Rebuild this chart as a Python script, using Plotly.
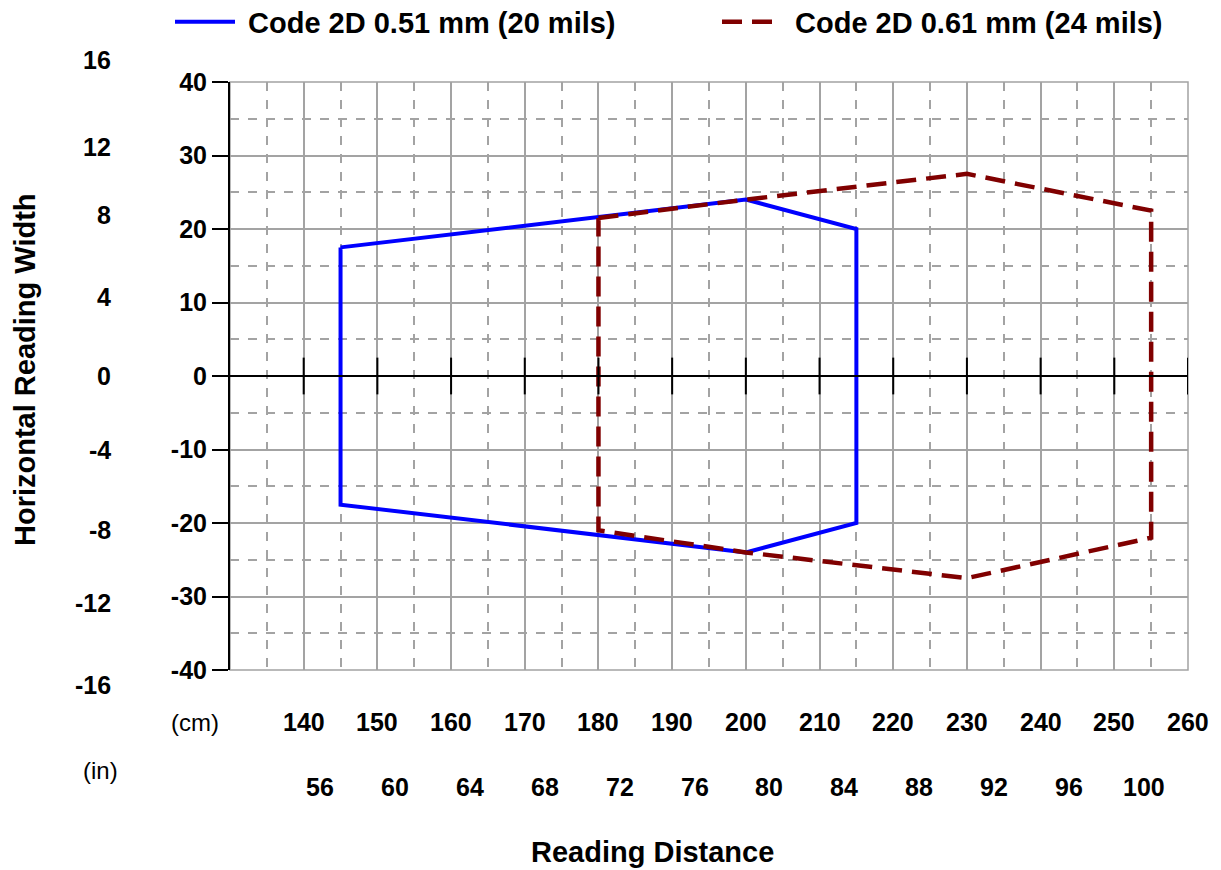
import plotly.graph_objects as go

# reading zone outlines (cm)
blue_x = [145, 200, 215, 215, 200, 145, 145]
blue_y = [17.5, 24, 20, -20, -24, -17.5, 17.5]
red_x = [180, 200, 230, 255, 255, 230, 200, 180, 180]
red_y = [21.5, 24, 27.5, 22.5, -22, -27.5, -24, -21, 21.5]

cm_ticks = [140, 150, 160, 170, 180, 190, 200, 210, 220, 230, 240, 250, 260]
in_ticks = [56, 60, 64, 68, 72, 76, 80, 84, 88, 92, 96, 100]
y_cm_ticks = [40, 30, 20, 10, 0, -10, -20, -30, -40]
y_in_labels = ["16", "12", "8", "4", "0", "-4", "-8", "-12", "-16"]
y_in_pix = [60, 147, 215, 297, 376, 450, 530, 603, 685]

FONT = "Liberation Sans, Arial, sans-serif"
OFF = 8  # page body margin
L, T = 230 - OFF, 82 - OFF
R, B = 1221 - (1188 - OFF), 870 - (670 - OFF)
PW, PH = 1221 - L - R, 870 - T - B


def px(x):
    return (x - OFF - L) / PW


def py(y):
    return (870 - B - (y - OFF)) / PH


def bold(size):
    return dict(size=size, family=FONT, color="black", weight="bold")


fig = go.Figure()
fig.add_trace(go.Scatter(x=blue_x, y=blue_y, mode="lines", name=" Code 2D 0.51 mm (20 mils)",
                         line=dict(color="#0000FF", width=4), legend="legend"))
fig.add_trace(go.Scatter(x=red_x, y=red_y, mode="lines", name=" Code 2D 0.61 mm (24 mils)",
                         line=dict(color="#800000", width=4.5, dash="20px,10px"), legend="legend2"))

# zero line with tick marks
fig.add_shape(type="line", xref="x", yref="y", x0=130, x1=260, y0=0, y1=0,
              line=dict(color="black", width=2))
for t in cm_ticks:
    fig.add_shape(type="line", xref="x", yref="y", x0=t, x1=t, y0=-2.5, y1=2.5,
                  line=dict(color="black", width=2))

mid = dict(showarrow=False, xanchor="center", yanchor="middle")
ann = []
for t in cm_ticks:
    ann.append(dict(x=t, y=py(722), xref="x", yref="paper", text=str(t), font=bold(25), **mid))
for t in in_ticks:
    ann.append(dict(x=t * 2.54, y=py(787), xref="x", yref="paper", text=str(t), font=bold(25), **mid))
for lab, p in zip(y_in_labels, y_in_pix):
    ann.append(dict(x=px(113), y=py(p), xref="paper", yref="paper", text=lab, showarrow=False,
                    xanchor="right", yanchor="middle", font=bold(25)))
ann.append(dict(x=px(195), y=py(722), xref="paper", yref="paper", text="(cm)",
                font=dict(size=24, family=FONT, color="black"), **mid))
ann.append(dict(x=px(100), y=py(770), xref="paper", yref="paper", text="(in)",
                font=dict(size=24, family=FONT, color="black"), **mid))
ann.append(dict(x=px(652), y=py(852), xref="paper", yref="paper",
                text="Reading Distance", font=bold(29), **mid))
ann.append(dict(x=px(25), y=py(370), xref="paper", yref="paper",
                text="Horizontal Reading Width", textangle=-90, font=bold(29), **mid))

leg_common = dict(orientation="h", xanchor="left", yanchor="middle", font=bold(29),
                  itemwidth=60, bgcolor="rgba(0,0,0,0)")

fig.update_layout(
    width=1221, height=870,
    margin=dict(l=L, r=R, t=T, b=B, autoexpand=False),
    plot_bgcolor="white", paper_bgcolor="white",
    font=dict(family=FONT, color="black"),
    showlegend=True,
    legend=dict(x=px(170), y=py(22), **leg_common),
    legend2=dict(x=px(717), y=py(22), **leg_common),
    annotations=ann,
    xaxis=dict(range=[130, 260], dtick=10, tick0=130, showticklabels=False,
               showgrid=True, gridcolor="#A3A3A3", gridwidth=1.5,
               minor=dict(dtick=5, tick0=130, showgrid=True, gridcolor="#A3A3A3",
                          griddash="dash", gridwidth=1.5),
               zeroline=False, showline=False, ticks=""),
    yaxis=dict(range=[-40, 40], tickvals=y_cm_ticks, ticktext=[str(v) for v in y_cm_ticks],
               showgrid=True, gridcolor="#A3A3A3", gridwidth=1.5,
               minor=dict(dtick=5, tick0=0, showgrid=True, gridcolor="#A3A3A3",
                          griddash="dash", gridwidth=1.5),
               zeroline=False, showline=True, linecolor="black", linewidth=2,
               ticks="outside", ticklen=16, tickwidth=2, tickcolor="black",
               tickfont=bold(25)),
)

# plot frame on right/top/bottom in grid gray
fig.add_shape(type="rect", xref="paper", yref="paper", x0=0, x1=1, y0=0, y1=1,
              line=dict(color="#A3A3A3", width=1.5), layer="below")

fig.write_html("out.html")
